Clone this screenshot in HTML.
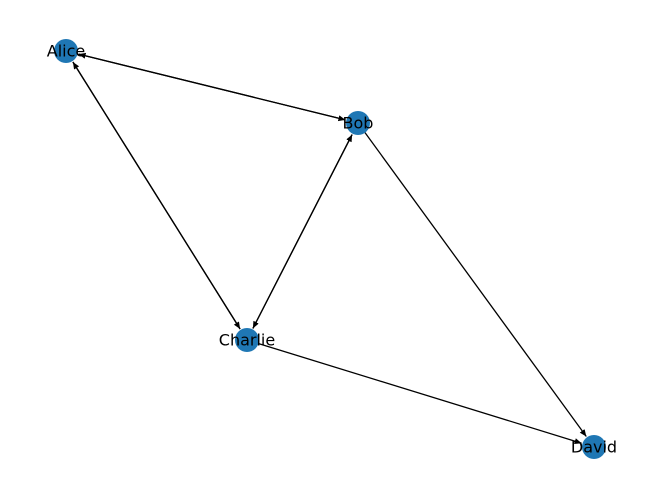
<!DOCTYPE html>
<html><head><meta charset="utf-8"><style>
html,body{margin:0;padding:0;background:#fff;}
svg{display:block;}
text{font-family:"DejaVu Sans","Liberation Sans",sans-serif;font-size:16px;fill:#000;}
</style></head><body>
<svg width="660" height="499" viewBox="0 0 660 499" xmlns="http://www.w3.org/2000/svg">
<defs>
<marker id="a" markerUnits="userSpaceOnUse" markerWidth="8" markerHeight="8" refX="7" refY="3" orient="auto">
<path d="M0,0 L7,3 L0,6 z" fill="#000"/>
</marker>
</defs>
<g stroke="#000" stroke-width="1.3" fill="none">
<line x1="78.6" y1="54.1" x2="345.4" y2="119.9" marker-end="url(#a)" marker-start="url(#a)" style="marker-start:none"/>
<line x1="345.4" y1="119.9" x2="78.6" y2="54.1" marker-end="url(#a)"/>
<line x1="72.9" y1="62" x2="240.1" y2="329" marker-end="url(#a)"/>
<line x1="240.1" y1="329" x2="72.9" y2="62" marker-end="url(#a)"/>
<line x1="352.1" y1="134.6" x2="252.9" y2="328.4" marker-end="url(#a)"/>
<line x1="252.9" y1="328.4" x2="352.1" y2="134.6" marker-end="url(#a)"/>
<line x1="358" y1="123" x2="586.3" y2="436.5" marker-end="url(#a)"/>
<line x1="247" y1="340" x2="581.6" y2="443.2" marker-end="url(#a)"/>
</g>
<g fill="#1f77b4">
<circle cx="66" cy="51" r="12"/>
<circle cx="358" cy="123" r="12"/>
<circle cx="247" cy="340" r="12"/>
<circle cx="594" cy="447" r="12"/>
</g>
<g text-anchor="middle" dominant-baseline="central">
<text x="66" y="51">Alice</text>
<text x="358" y="123">Bob</text>
<text x="247" y="340">Charlie</text>
<text x="594" y="447">David</text>
</g>
</svg>
</body></html>
